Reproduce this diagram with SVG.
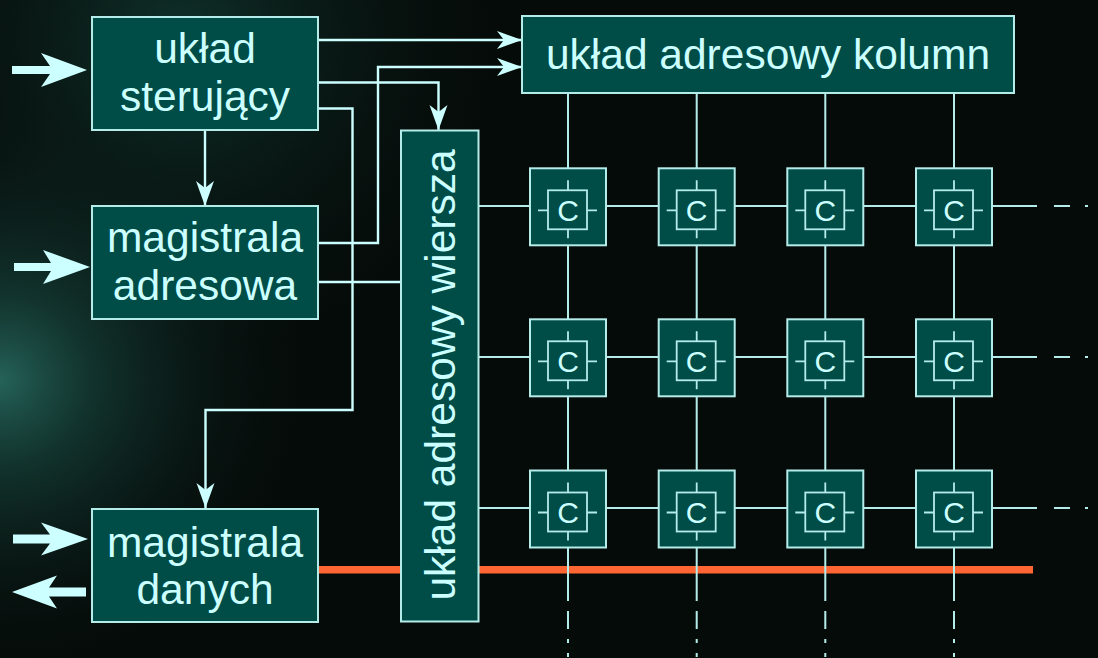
<svg xmlns="http://www.w3.org/2000/svg" width="1098" height="658" viewBox="0 0 1098 658">
<defs>
<radialGradient id="glow1" cx="0" cy="380" r="340" gradientUnits="userSpaceOnUse" gradientTransform="translate(0,380) scale(0.9,0.85) translate(0,-380)">
<stop offset="0" stop-color="#2a7266" stop-opacity="0.85"/>
<stop offset="0.3" stop-color="#1a4d45" stop-opacity="0.6"/>
<stop offset="0.7" stop-color="#0f2a25" stop-opacity="0.3"/>
<stop offset="1" stop-color="#0a1a16" stop-opacity="0"/>
</radialGradient>
<radialGradient id="glow2" cx="180" cy="40" r="320" gradientUnits="userSpaceOnUse">
<stop offset="0" stop-color="#123a32" stop-opacity="0.8"/>
<stop offset="1" stop-color="#0a1a16" stop-opacity="0"/>
</radialGradient>
<marker id="ah" markerUnits="userSpaceOnUse" markerWidth="30" markerHeight="22" viewBox="-27 -11 30 22" refX="0" refY="0" orient="auto">
<path d="M0,0 L-25,-9 L-18,0 L-25,9 Z" fill="#ccffff"/>
</marker>
<style>
.box{fill:#004c47;stroke:#b4ecea;stroke-width:2}
.cell{fill:#004c47;stroke:#b4ecea;stroke-width:2}
.inner{fill:none;stroke:#b4ecea;stroke-width:1.8}
.tick{stroke:#b4ecea;stroke-width:1.8}
.lbl{font-family:"Liberation Sans",Arial,sans-serif;font-size:42.5px;fill:#ccffff;text-anchor:middle}
.c{font-family:"Liberation Sans",Arial,sans-serif;font-size:30px;fill:#ccffff;text-anchor:middle}
.con{fill:none;stroke:#ccffff;stroke-width:2.4}
.grid{fill:none;stroke:#b4ecea;stroke-width:2}
.big{fill:#ccffff}
</style>
</defs>
<rect width="1098" height="658" fill="#050b09"/>
<rect width="1098" height="658" fill="url(#glow2)"/>
<rect width="1098" height="658" fill="url(#glow1)"/>

<g id="data-bus-line">
<rect x="318" y="566" width="715" height="7.5" fill="#ff6633"/>
</g>

<g id="connectors">
<path class="con" d="M318,40 H522" marker-end="url(#ah)"/>
<path class="con" d="M318,243 H378 V67 H522" marker-end="url(#ah)"/>
<path class="con" d="M318,82.5 H438.5 V130" marker-end="url(#ah)"/>
<path class="con" d="M318,108.5 H352.5 V410 H205.5 V508" marker-end="url(#ah)"/>
<path class="con" d="M205,130 V206" marker-end="url(#ah)"/>
<path class="con" d="M318,282 H401"/>
<g class="grid">
<path d="M478,206 H1037 M1054,206 H1070 M1085,206 H1088"/>
<path d="M478,357 H1037 M1054,357 H1070 M1085,357 H1088"/>
<path d="M478,508 H1037 M1054,508 H1070 M1085,508 H1088"/>
<path d="M568,93 V601 M568,611 V629 M568,639 V643 M568,653 V657"/>
<path d="M696.7,93 V601 M696.7,611 V629 M696.7,639 V643 M696.7,653 V657"/>
<path d="M825.3,93 V601 M825.3,611 V629 M825.3,639 V643 M825.3,653 V657"/>
<path d="M954,93 V601 M954,611 V629 M954,639 V643 M954,653 V657"/>
</g>
</g>

<g id="io-arrows">
<polygon class="big" points="12,66 50,66 41,53 87,70 41,87 50,74 12,74"/>
<polygon class="big" points="14,263 51,263 43,250 90,267 43,284 51,271 14,271"/>
<polygon class="big" points="13,534.5 50,534.5 41,522.5 88,539 41,555.5 50,543.5 13,543.5"/>
<polygon class="big" points="86,587.5 49,587.5 57,575.5 12,592 57,608.5 49,596.5 86,596.5"/>
</g>

<g id="uklad-sterujacy">
<rect class="box" x="92" y="17" width="226" height="113"/>
<text class="lbl" x="205" y="63">układ</text>
<text class="lbl" x="205" y="111">sterujący</text>
</g>

<g id="magistrala-adresowa">
<rect class="box" x="92" y="206" width="226" height="113"/>
<text class="lbl" x="205" y="252">magistrala</text>
<text class="lbl" x="205" y="300">adresowa</text>
</g>

<g id="magistrala-danych">
<rect class="box" x="92" y="509" width="226" height="113"/>
<text class="lbl" x="205" y="557">magistrala</text>
<text class="lbl" x="205" y="604">danych</text>
</g>

<g id="uklad-adresowy-kolumn">
<rect class="box" x="522" y="16" width="492" height="77"/>
<text class="lbl" x="768" y="69">układ adresowy kolumn</text>
</g>

<g id="uklad-adresowy-wiersza">
<rect class="box" x="401" y="130.5" width="77.5" height="491"/>
<text class="lbl" transform="translate(455,375) rotate(-90)" x="0" y="0">układ adresowy wiersza</text>
</g>

<g id="cell-r1c1" transform="translate(530,168.3)"><rect class="cell" width="76" height="77"/><rect class="inner" x="18" y="22" width="39" height="39"/><path class="tick" d="M38,12V22M38,61V70M8,42H18M57,42H67"/><text class="c" x="38" y="52.5">C</text></g>
<g id="cell-r1c2" transform="translate(658.7,168.3)"><rect class="cell" width="76" height="77"/><rect class="inner" x="18" y="22" width="39" height="39"/><path class="tick" d="M38,12V22M38,61V70M8,42H18M57,42H67"/><text class="c" x="38" y="52.5">C</text></g>
<g id="cell-r1c3" transform="translate(787.3,168.3)"><rect class="cell" width="76" height="77"/><rect class="inner" x="18" y="22" width="39" height="39"/><path class="tick" d="M38,12V22M38,61V70M8,42H18M57,42H67"/><text class="c" x="38" y="52.5">C</text></g>
<g id="cell-r1c4" transform="translate(916,168.3)"><rect class="cell" width="76" height="77"/><rect class="inner" x="18" y="22" width="39" height="39"/><path class="tick" d="M38,12V22M38,61V70M8,42H18M57,42H67"/><text class="c" x="38" y="52.5">C</text></g>

<g id="cell-r2c1" transform="translate(530,319.3)"><rect class="cell" width="76" height="77"/><rect class="inner" x="18" y="22" width="39" height="39"/><path class="tick" d="M38,12V22M38,61V70M8,42H18M57,42H67"/><text class="c" x="38" y="52.5">C</text></g>
<g id="cell-r2c2" transform="translate(658.7,319.3)"><rect class="cell" width="76" height="77"/><rect class="inner" x="18" y="22" width="39" height="39"/><path class="tick" d="M38,12V22M38,61V70M8,42H18M57,42H67"/><text class="c" x="38" y="52.5">C</text></g>
<g id="cell-r2c3" transform="translate(787.3,319.3)"><rect class="cell" width="76" height="77"/><rect class="inner" x="18" y="22" width="39" height="39"/><path class="tick" d="M38,12V22M38,61V70M8,42H18M57,42H67"/><text class="c" x="38" y="52.5">C</text></g>
<g id="cell-r2c4" transform="translate(916,319.3)"><rect class="cell" width="76" height="77"/><rect class="inner" x="18" y="22" width="39" height="39"/><path class="tick" d="M38,12V22M38,61V70M8,42H18M57,42H67"/><text class="c" x="38" y="52.5">C</text></g>

<g id="cell-r3c1" transform="translate(530,470.5)"><rect class="cell" width="76" height="77"/><rect class="inner" x="18" y="22" width="39" height="39"/><path class="tick" d="M38,12V22M38,61V70M8,42H18M57,42H67"/><text class="c" x="38" y="52.5">C</text></g>
<g id="cell-r3c2" transform="translate(658.7,470.5)"><rect class="cell" width="76" height="77"/><rect class="inner" x="18" y="22" width="39" height="39"/><path class="tick" d="M38,12V22M38,61V70M8,42H18M57,42H67"/><text class="c" x="38" y="52.5">C</text></g>
<g id="cell-r3c3" transform="translate(787.3,470.5)"><rect class="cell" width="76" height="77"/><rect class="inner" x="18" y="22" width="39" height="39"/><path class="tick" d="M38,12V22M38,61V70M8,42H18M57,42H67"/><text class="c" x="38" y="52.5">C</text></g>
<g id="cell-r3c4" transform="translate(916,470.5)"><rect class="cell" width="76" height="77"/><rect class="inner" x="18" y="22" width="39" height="39"/><path class="tick" d="M38,12V22M38,61V70M8,42H18M57,42H67"/><text class="c" x="38" y="52.5">C</text></g>
</svg>
